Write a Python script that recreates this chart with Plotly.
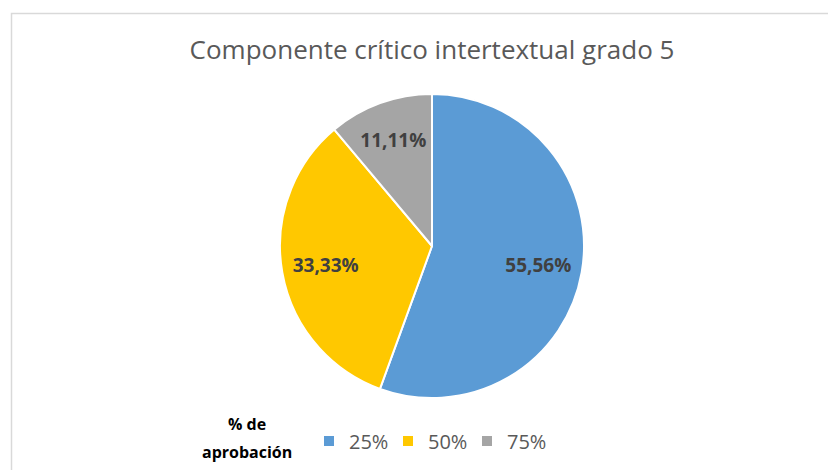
import plotly.graph_objects as go

categories = ["25%", "50%", "75%"]
values = [55.56, 33.33, 11.11]
colors = ["#5B9BD5", "#FFC800", "#A5A5A5"]
title = "Componente crítico intertextual grado 5"
legend_title_lines = ["% de", "aprobación"]

labels_txt = [f"{v:.2f}".replace(".", ",") + "%" for v in values]

W, H = 836, 470
OFF = 8  # page body margin


def px(x):
    return (x - OFF) / W


def py(y):
    return 1 - (y - OFF) / H


cx, cy, r = 432, 246, 152
dom = dict(x=[px(cx - r), px(cx + r)], y=[py(cy + r), py(cy - r)])

fig = go.Figure()
fig.add_trace(go.Pie(
    labels=categories,
    values=values,
    textinfo="none",
    marker=dict(colors=colors, line=dict(color="white", width=2)),
    sort=False,
    direction="clockwise",
    rotation=0,
    domain=dom,
    showlegend=True,
))
# transparent ring used only to place the data labels further out
fig.add_trace(go.Pie(
    labels=categories,
    values=values,
    text=labels_txt,
    texttemplate="<b>%{text}</b>",
    textposition="inside",
    insidetextorientation="horizontal",
    textfont=dict(family="Open Sans", size=19, color="#404040"),
    marker=dict(colors=["rgba(0,0,0,0)"] * len(values), line=dict(width=0)),
    sort=False,
    direction="clockwise",
    rotation=0,
    hole=0.42,
    domain=dom,
    showlegend=False,
    hoverinfo="skip",
))

annotations = [
    dict(text="<b>" + legend_title_lines[0] + "</b>", x=px(247), y=py(424), xref="paper", yref="paper",
         xanchor="center", yanchor="middle", showarrow=False,
         font=dict(family="Open Sans", size=16, color="#000000")),
    dict(text="<b>" + legend_title_lines[1] + "</b>", x=px(247), y=py(452), xref="paper", yref="paper",
         xanchor="center", yanchor="middle", showarrow=False,
         font=dict(family="Open Sans", size=16, color="#000000")),
]

fig.update_layout(
    width=W, height=H,
    margin=dict(l=0, r=0, t=0, b=0),
    paper_bgcolor="white",
    plot_bgcolor="white",
    title=dict(text=title, x=px(432), xanchor="center", y=py(50), yanchor="middle",
               font=dict(family="Open Sans", size=26, color="#595959")),
    showlegend=True,
    legend=dict(
        orientation="h", x=px(309), xanchor="left", y=py(441), yanchor="middle",
        font=dict(family="Open Sans", size=20, color="#595959"),
        entrywidth=34,
        itemsizing="constant",
    ),
    annotations=annotations,
    shapes=[dict(type="rect", xref="paper", yref="paper",
                 x0=px(11.5), x1=1.05, y0=-0.05, y1=py(13.5),
                 line=dict(color="#D9D9D9", width=1.5), fillcolor="rgba(0,0,0,0)")],
)

fig.write_html("out.html")
